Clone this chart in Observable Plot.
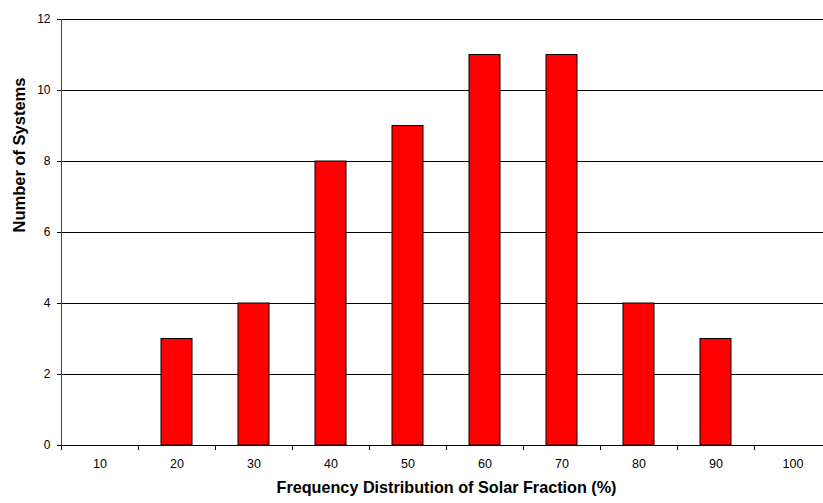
<!DOCTYPE html>
<html>
<head>
<meta charset="utf-8">
<script src="https://cdn.jsdelivr.net/npm/d3@7"></script>
<script src="https://cdn.jsdelivr.net/npm/@observablehq/plot@0.6"></script>
<style>
  html, body { margin: 0; padding: 0; background: #fff; overflow: hidden; }
</style>
</head>
<body>
<div id="chart"></div>
<script>
// Solar fraction bins (%) and number of systems in each bin
const bins = ["10", "20", "30", "40", "50", "60", "70", "80", "90", "100"];
const systems = [0, 3, 4, 8, 9, 11, 11, 4, 3, 0];
const yTicks = [0, 2, 4, 6, 8, 10, 12];

const data = bins.map((b, i) => ({bin: b, count: systems[i]}));

// Plot area spans a little past the right edge of the page
const left = 61, right = 831;
const step = (right - left) / bins.length;

const chart = Plot.plot({
  width: 823,
  height: 503,
  marginLeft: left,
  marginRight: 0,
  marginTop: 19,
  marginBottom: 58,
  style: {fontFamily: "'Liberation Sans', Arial, sans-serif", fontSize: "12px", color: "#000", overflow: "visible"},
  x: {domain: bins, range: [left, right], paddingInner: 0.6, paddingOuter: 0.3, label: null},
  y: {domain: [0, 12], ticks: yTicks, label: null},
  marks: [
    Plot.ruleY(yTicks.filter(d => d > 0), {stroke: "#000", strokeWidth: 1}),
    Plot.barY(data, {x: "bin", y: "count", fill: "#ff0000", stroke: "#000", strokeWidth: 1}),
    Plot.ruleY([0], {stroke: "#000", strokeWidth: 1}),
    Plot.frame({anchor: "left", stroke: "#444"}),
    Plot.axisY({ticks: yTicks, tickSize: 4, tickPadding: 7, label: null, fontSize: 12}),
    Plot.axisX({tickSize: 0, tickPadding: 14, label: null, fontSize: 12.5}),
    // short tick marks on the category boundaries, hanging below the baseline
    Plot.ruleX(bins, {x: d => d, dx: -step / 2, y1: 0, y2: 0, insetBottom: -5, stroke: "#000"}),
    Plot.text(["Frequency Distribution of Solar Fraction (%)"], {
      frameAnchor: "bottom", dx: 4, dy: 47, fontWeight: "bold", fontSize: 16.2
    }),
    Plot.text(["Number of Systems"], {
      frameAnchor: "left", dx: -42, rotate: -90, fontWeight: "bold", fontSize: 16.5
    })
  ]
});
document.getElementById("chart").append(chart);
</script>
</body>
</html>
